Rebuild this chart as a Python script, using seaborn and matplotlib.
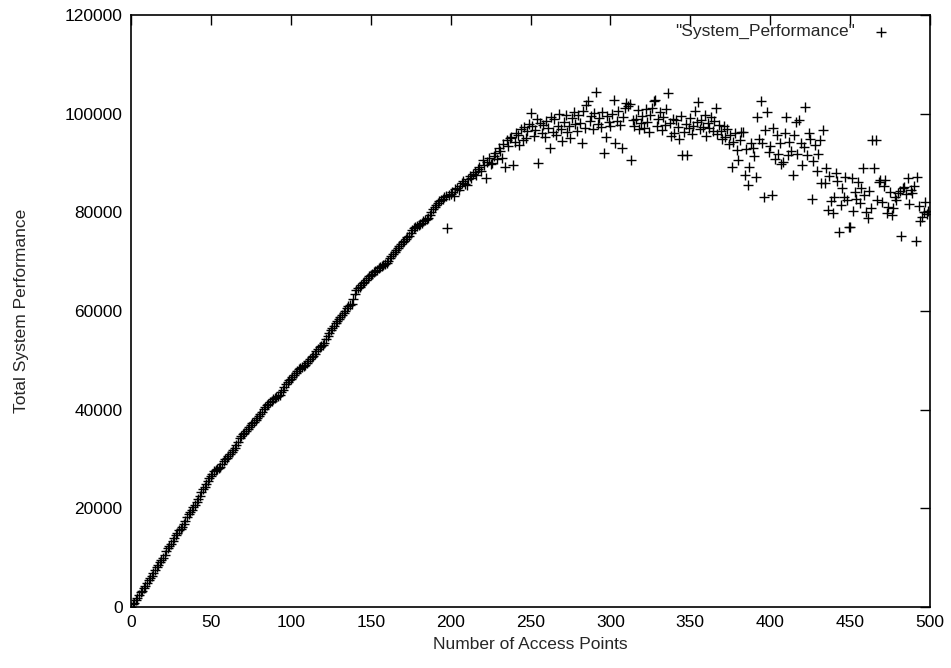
import numpy as np
import pandas as pd
import seaborn as sns
import matplotlib
matplotlib.use("Agg")
import matplotlib.pyplot as plt

# total system performance (in thousands) for 0..499 access points
perf_k = [
    0.0, 0.6, 0.9, 1.5, 1.8, 2.4, 3.0, 3.3, 3.9, 4.3,
    4.8, 5.4, 5.9, 6.3, 6.8, 7.5, 8.1, 8.6, 9.1, 9.5,
    10.0, 10.6, 11.3, 11.9, 12.4, 12.8, 13.3, 13.9, 14.6, 15.1,
    15.6, 15.9, 16.3, 16.8, 17.5, 18.2, 18.8, 19.3, 19.7, 20.2,
    20.7, 21.3, 21.9, 22.6, 23.3, 23.9, 24.4, 24.9, 25.5, 26.1,
    26.6, 27.0, 27.5, 27.8, 28.0, 28.2, 28.4, 28.9, 29.5, 30.0,
    30.3, 30.6, 31.0, 31.4, 31.8, 32.3, 32.9, 33.5, 34.2, 34.7,
    35.0, 35.3, 35.7, 36.1, 36.4, 36.8, 37.2, 37.6, 38.0, 38.4,
    38.8, 39.2, 39.6, 40.1, 40.6, 40.9, 41.2, 41.5, 41.8, 42.1,
    42.3, 42.5, 42.7, 43.0, 43.5, 44.0, 44.5, 45.2, 45.7, 46.0,
    46.3, 46.7, 47.0, 47.4, 47.8, 48.2, 48.4, 48.6, 48.8, 49.1,
    49.5, 49.9, 50.3, 50.6, 50.9, 51.3, 51.8, 52.3, 52.7, 53.0,
    53.1, 53.6, 54.3, 55.0, 55.6, 56.1, 56.5, 57.0, 57.5, 57.9,
    58.3, 58.7, 59.1, 59.6, 60.1, 60.6, 61.0, 61.2, 61.5, 62.5,
    63.4, 64.2, 64.7, 64.9, 65.2, 65.6, 65.9, 66.2, 66.6, 67.0,
    67.3, 67.6, 67.9, 68.1, 68.4, 68.7, 68.9, 69.1, 69.3, 69.5,
    69.7, 70.2, 70.7, 71.2, 71.6, 72.0, 72.3, 72.7, 73.1, 73.5,
    73.9, 74.2, 74.5, 74.9, 75.3, 75.8, 76.4, 76.9, 77.0, 77.2,
    77.4, 77.6, 77.9, 78.2, 78.5, 78.7, 78.9, 79.4, 80.0, 80.6,
    81.1, 81.5, 81.8, 82.2, 82.5, 82.8, 83.1, 83.3, 76.8, 83.6,
    83.8, 84.2, 83.4, 84.7, 85.0, 84.6, 85.3, 85.9, 86.4, 85.7,
    85.5, 86.8, 87.4, 86.9, 87.8, 88.2, 87.5, 88.7, 89.1, 88.4,
    90.6, 89.6, 87.0, 90.2, 91.0, 89.8, 90.0, 91.5, 92.1, 90.8,
    93.0, 92.4, 91.1, 93.8, 89.2, 94.6, 93.4, 95.0, 95.3, 89.6,
    94.2, 96.1, 95.6, 93.7, 96.8, 94.7, 97.3, 95.1, 96.4, 98.0,
    100.1, 97.5, 95.4, 96.7, 99.0, 90.0, 98.2, 96.0, 97.8, 95.2,
    98.6, 97.0, 93.0, 99.4, 96.3, 98.9, 95.7, 97.6, 100.0, 96.9,
    94.5, 98.4, 99.7, 96.2, 97.4, 95.0, 99.2, 100.3, 97.9, 96.5,
    99.8, 98.1, 94.0, 100.6, 97.0, 101.8, 102.6, 98.5, 99.5, 96.8,
    100.2, 104.4, 98.0, 99.1, 97.2, 100.4, 92.0, 95.3, 99.6, 98.3,
    97.5, 99.9, 102.8, 94.0, 98.6, 100.5, 97.7, 93.0, 99.3, 101.1,
    102.2, 101.6, 102.0, 90.6, 98.8, 97.4, 99.0, 100.7, 96.9, 98.2,
    99.5, 97.1, 100.9, 98.4, 96.3, 99.8, 101.2, 102.5, 102.8, 97.6,
    98.9, 100.3, 96.6, 99.4, 97.8, 100.9, 104.2, 98.1, 95.5, 99.0,
    96.0, 98.7, 97.3, 94.9, 99.6, 91.6, 96.2, 98.0, 91.6, 97.0,
    99.2, 95.8, 97.6, 100.5, 98.3, 102.4, 96.9, 98.8, 97.2, 99.7,
    95.4, 98.1, 97.0, 99.3, 96.5, 98.6, 101.1, 95.9, 97.8, 96.4,
    94.8, 97.5, 95.2, 96.9, 93.9, 95.6, 89.2, 94.3, 96.1, 92.7,
    90.6, 94.6, 96.3, 96.3, 87.6, 92.8, 85.5, 89.2, 94.0, 93.0,
    91.4, 87.2, 99.3, 94.8, 102.6, 94.0, 83.1, 96.7, 100.3, 92.2,
    93.5, 83.5, 97.1, 90.8, 95.6, 91.9, 94.0, 89.7, 90.2, 96.0,
    99.3, 91.6, 94.3, 92.5, 87.6, 95.7, 98.3, 91.9, 98.8, 94.1,
    89.6, 93.2, 101.4, 91.6, 96.0, 94.9, 82.7, 90.5, 93.6, 88.4,
    91.8, 94.7, 85.9, 96.7, 85.9, 89.0, 80.5, 87.4, 82.2, 79.9,
    83.1, 87.9, 86.3, 76.0, 81.4, 84.9, 83.1, 87.2, 82.5, 77.0,
    77.0, 87.0, 80.3, 84.1, 82.8, 86.2, 81.9, 85.0, 89.0, 83.5,
    80.1, 78.9, 84.4, 80.9, 94.7, 89.0, 94.7, 82.6, 86.1, 86.6,
    82.1, 85.3, 86.6, 79.8, 81.1, 84.2, 79.5, 80.8, 83.1, 82.4,
    84.0, 84.4, 75.2, 84.9, 85.1, 83.7, 87.0, 81.7, 84.6, 83.9,
    85.3, 74.2, 87.2, 81.3, 78.3, 79.1, 80.0, 82.0, 79.6, 80.2,
]
access_points = np.arange(len(perf_k))

x_ticks = [0, 50, 100, 150, 200, 250, 300, 350, 400, 450, 500]
y_ticks = [0, 20000, 40000, 60000, 80000, 100000, 120000]

df = pd.DataFrame({"ap": access_points, "perf": np.array(perf_k) * 1000})

sns.set_style("white")
plt.rcParams["font.family"] = ["Liberation Sans", "DejaVu Sans"]

fig = plt.figure(figsize=(9.51, 6.68), dpi=100)
ax = fig.add_axes([131 / 951, 1 - 607 / 668, 799 / 951, 592 / 668])

sns.scatterplot(data=df, x="ap", y="perf", marker="+", color="black",
                s=50, linewidth=1.0, label='"System_Performance"', ax=ax)

ax.set_xlim(0, 500)
ax.set_ylim(0, 120000)
ax.set_xticks(x_ticks)
ax.set_yticks(y_ticks)
ax.tick_params(direction="in", length=7, width=1, top=True, right=True,
               labelsize=12.5, colors="black", pad=6)
for side in ax.spines.values():
    side.set_color("black")
    side.set_linewidth(1.2)

ax.set_xlabel("Number of Access Points", fontsize=12.5, labelpad=5)
ax.set_ylabel("Total System Performance", fontsize=12.5, labelpad=26)

ax.legend(loc="upper right", bbox_to_anchor=(0.9687, 0.9966), borderaxespad=0,
          frameon=False, markerfirst=False, fontsize=12.5, handletextpad=0.5)

fig.savefig("out.png", dpi=100)
